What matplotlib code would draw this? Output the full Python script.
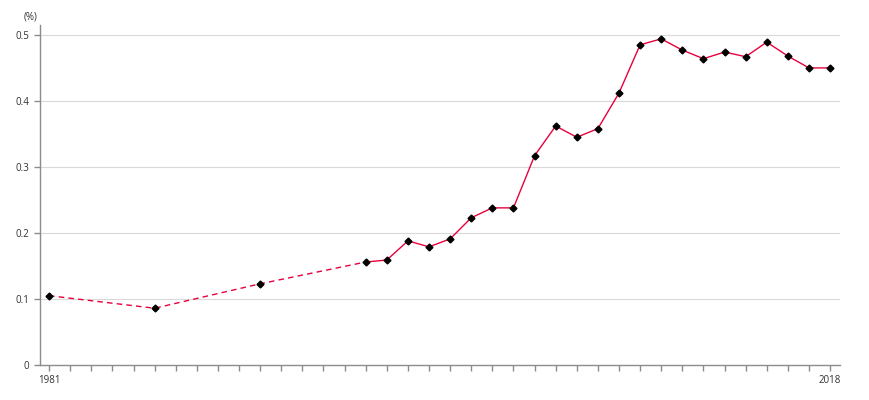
import matplotlib.pyplot as plt

plt.rcParams['font.family'] = ['Open Sans', 'DejaVu Sans']

years = [1981, 1986, 1991, 1996, 1997, 1998, 1999, 2000, 2001, 2002, 2003,
         2004, 2005, 2006, 2007, 2008, 2009, 2010, 2011, 2012, 2013, 2014,
         2015, 2016, 2017, 2018]
values = [0.105, 0.086, 0.123, 0.156, 0.159, 0.188, 0.179, 0.191, 0.223, 0.238, 0.238,
          0.317, 0.362, 0.345, 0.358, 0.412, 0.485, 0.494, 0.477, 0.464, 0.474, 0.467,
          0.489, 0.468, 0.450, 0.450]
yticks = [0, 0.1, 0.2, 0.3, 0.4, 0.5]
yticklabels = ['0', '0.1', '0.2', '0.3', '0.4', '0.5']

line_color = '#e8003d'

fig = plt.figure(figsize=(8.7, 4), dpi=100)
ax = fig.add_axes([40 / 870, 35 / 400, 800 / 870, 340 / 400])

# dashed part where years are missing, solid after
split = years.index(1996)
ax.plot(years[:split + 1], values[:split + 1], color=line_color, lw=1, ls=(0, (4, 3)))
ax.plot(years[split:], values[split:], color=line_color, lw=1)
ax.plot(years, values, ls='none', marker='D', ms=3.5, color='black')

ax.set_xlim(1980.57, 2018.47)
ax.set_ylim(0, 0.515)
ax.set_xticks(range(1981, 2019))
ax.set_xticklabels([str(y) if y in (1981, 2018) else '' for y in range(1981, 2019)])
ax.set_yticks(yticks)
ax.set_yticklabels(yticklabels)

for t in yticks[1:]:
    ax.axhline(t, color='#d9d9d9', lw=0.8, zorder=0)

for s in ['top', 'right']:
    ax.spines[s].set_visible(False)
for s in ['left', 'bottom']:
    ax.spines[s].set_color('#8c8c8c')
    ax.spines[s].set_linewidth(1)
ax.tick_params(axis='both', colors='#8c8c8c', labelcolor='#333333', labelsize=7, length=4, width=1)

fig.text(24 / 870, 1 - 17 / 400, '(%)', fontsize=7, color='#333333', va='center')

plt.savefig('out.png', dpi=100)
